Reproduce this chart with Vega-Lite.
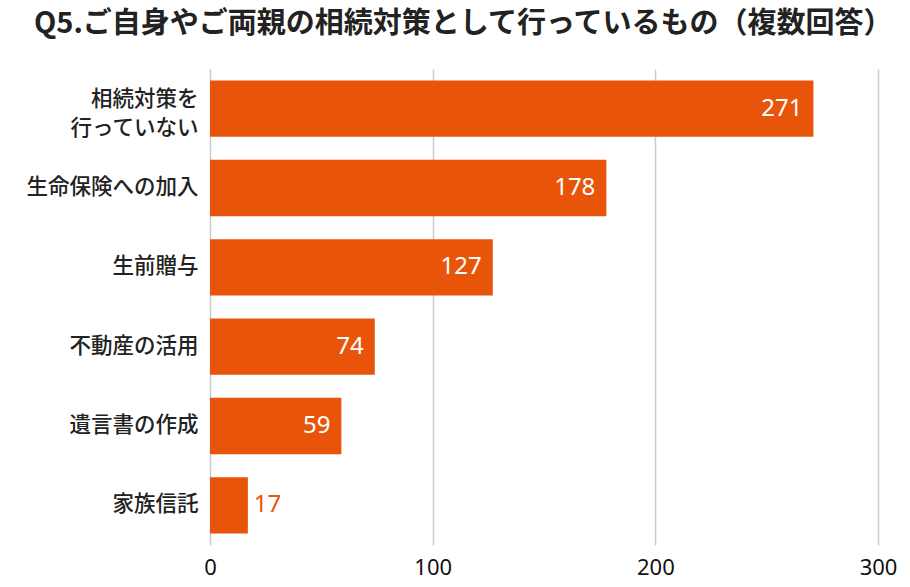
{
  "$schema": "https://vega.github.io/schema/vega-lite/v6.json",
  "autosize": "none",
  "width": 668,
  "height": 476,
  "padding": {"left": 210, "top": 69, "right": 32, "bottom": 42},
  "background": "white",
  "title": {
    "text": "Q5.ご自身やご両親の相続対策として行っているもの（複数回答）",
    "anchor": "start",
    "frame": "group",
    "dx": -176,
    "offset": 30,
    "font": "Noto Sans CJK JP",
    "fontSize": 29,
    "fontWeight": "bold",
    "color": "#222222"
  },
  "data": {
    "values": [
      {"item": "相続対策を|行っていない", "value": 271},
      {"item": "生命保険への加入", "value": 178},
      {"item": "生前贈与", "value": 127},
      {"item": "不動産の活用", "value": 74},
      {"item": "遺言書の作成", "value": 59},
      {"item": "家族信託", "value": 17}
    ]
  },
  "encoding": {
    "y": {
      "field": "item",
      "type": "nominal",
      "sort": null,
      "scale": {"paddingInner": 0.29, "paddingOuter": 0.145},
      "axis": {
        "title": null,
        "domain": false,
        "ticks": false,
        "labelPadding": 12,
        "labelFont": "Noto Sans CJK JP",
        "labelFontSize": 21.5,
        "labelFontWeight": "500",
        "labelColor": "#222222",
        "labelLineHeight": 29,
        "labelOffset": {"condition": {"test": "indexof(datum.value, '|') >= 0", "value": -9}, "value": 0},
        "labelExpr": "split(datum.label, '|')"
      }
    },
    "x": {
      "field": "value",
      "type": "quantitative",
      "scale": {"domain": [0, 300]},
      "axis": {
        "title": null,
        "values": [0, 100, 200, 300],
        "domain": false,
        "ticks": false,
        "grid": true,
        "gridColor": "#cccccc",
        "gridWidth": 1.5,
        "labelFlush": false,
        "labelPadding": 12,
        "labelFont": "Noto Sans",
        "labelFontSize": 22,
        "labelColor": "#111111"
      }
    }
  },
  "layer": [
    {"mark": {"type": "bar", "color": "#E8550A"}},
    {
      "transform": [{"filter": "datum.value >= 30"}],
      "mark": {"type": "text", "align": "right", "dx": -11, "font": "Noto Sans", "fontSize": 24, "color": "white"},
      "encoding": {"text": {"field": "value", "type": "quantitative"}}
    },
    {
      "transform": [{"filter": "datum.value < 30"}],
      "mark": {"type": "text", "align": "left", "dx": 6, "font": "Noto Sans", "fontSize": 24, "color": "#E8550A"},
      "encoding": {"text": {"field": "value", "type": "quantitative"}}
    }
  ],
  "config": {"view": {"stroke": null}}
}
